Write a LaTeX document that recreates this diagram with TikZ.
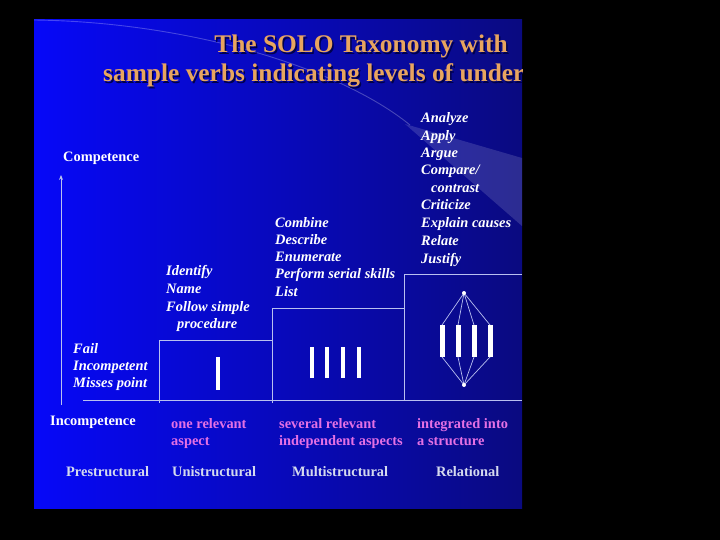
\documentclass[tikz,border=0pt]{standalone}
\usepackage{fontspec}
\setmainfont{Liberation Serif}
\usetikzlibrary{arrows.meta}
\definecolor{slideL}{RGB}{6,8,248}
\definecolor{slideR}{RGB}{10,10,128}
\definecolor{titlecol}{RGB}{232,165,95}
\definecolor{pinkcol}{RGB}{228,112,228}
\definecolor{levelcol}{RGB}{212,218,238}
\definecolor{linecol}{RGB}{185,192,240}
\begin{document}
\begin{tikzpicture}[x=1pt,y=-1pt,
  verb/.style={font=\fontsize{14.4}{17}\selectfont\bfseries\itshape, text=white, anchor=base west, inner sep=0pt},
  axislbl/.style={font=\fontsize{14.4}{17}\selectfont\bfseries, text=white, anchor=base west, inner sep=0pt},
  pinklbl/.style={font=\fontsize{14.4}{17}\selectfont\bfseries, text=pinkcol, anchor=base west, inner sep=0pt},
  levellbl/.style={font=\fontsize{14.4}{17}\selectfont\bfseries, text=levelcol, anchor=base west, inner sep=0pt},
  titlelbl/.style={font=\fontsize{25.4}{30}\selectfont\bfseries, text=titlecol, inner sep=0pt},
  shadowlbl/.style={font=\fontsize{25.4}{30}\selectfont\bfseries, text=black!70!blue, inner sep=0pt},
  stepline/.style={draw=linecol, line width=0.9pt},
  bar/.style={draw=white, line width=4.5pt},
  relline/.style={draw=linecol, line width=0.7pt}]
\useasboundingbox (0,0) rectangle (720,540);
\fill[black] (0,0) rectangle (720,540);
\shade[left color=slideL, right color=slideR] (34,20) rectangle (522,508);
\begin{scope}
  \clip (34,20) rectangle (522,508);
  % light beam and decorative curve
  \fill[white, opacity=0.14] (405,124) -- (522,158) -- (522,226) -- cycle;
  \draw[white, opacity=0.25, line width=0.9pt] (34,20) .. controls (190,22) and (340,68) .. (410,125);
  % title
  \node[shadowlbl, anchor=base] (t1s) at (362.5,54.5) {The SOLO Taxonomy with};
  \node[titlelbl, anchor=base] (t1) at (361,53) {The SOLO Taxonomy with};
  \node[shadowlbl, anchor=base west] (t2s) at (104.5,83.5) {sample verbs indicating levels of under};
  \node[titlelbl, anchor=base west] (t2) at (103,82) {sample verbs indicating levels of under};
\end{scope}

% axis
\coordinate (axB) at (61,405);
\coordinate (axT) at (61,175);
\draw[stepline, -{Stealth[length=5pt,width=4pt]}] (axB) -- (axT);
\node[axislbl] (comp) at (63,162) {Competence};
\node[axislbl] (incomp) at (50,425) {Incompetence};

% steps
\coordinate (b0) at (83,400);
\coordinate (b1) at (522,400);
\draw[stepline] (b0) -- (b1);
\coordinate (u0) at (159,403);
\coordinate (u1) at (159,340);
\coordinate (u2) at (272,340);
\draw[stepline] (u0) -- (u1) -- (u2);
\coordinate (m0) at (272,403);
\coordinate (m1) at (272,308);
\coordinate (m2) at (404,308);
\draw[stepline] (m0) -- (m1) -- (m2);
\coordinate (r0) at (404,400);
\coordinate (r1) at (404,274);
\coordinate (r2) at (522,274);
\draw[stepline] (r0) -- (r1) -- (r2);

% unistructural bar
\coordinate (ub1) at (218,357);
\coordinate (ub2) at (218,390);
\draw[bar] (ub1) -- (ub2);

% multistructural bars
\foreach \x [count=\i] in {312,327,343,359}{
  \coordinate (mbt\i) at (\x,347);
  \coordinate (mbb\i) at (\x,378);
  \draw[bar] (mbt\i) -- (mbb\i);
}

% relational structure
\coordinate (rtop) at (464,293);
\coordinate (rbot) at (464,385);
\foreach \x [count=\i] in {442,458,474,490}{
  \coordinate (rbt\i) at (\x,325);
  \coordinate (rbb\i) at (\x,357);
  \draw[relline] (rtop) -- (rbt\i);
  \draw[relline] (rbot) -- (rbb\i);
  \draw[bar, line width=5pt] (rbt\i) -- (rbb\i);
}
\fill[white] (rtop) circle (2pt);
\fill[white] (rbot) circle (2pt);

% verbs
\node[verb] (p1) at (73,353) {Fail};
\node[verb] (p2) at (73,370) {Incompetent};
\node[verb] (p3) at (73,387) {Misses point};

\node[verb] (u1t) at (166,275) {Identify};
\node[verb] (u2t) at (166,293) {Name};
\node[verb] (u3t) at (166,311) {Follow simple};
\node[verb] (u4t) at (177,328) {procedure};

\node[verb] (m1t) at (275,227) {Combine};
\node[verb] (m2t) at (275,244) {Describe};
\node[verb] (m3t) at (275,261) {Enumerate};
\node[verb] (m4t) at (275,278) {Perform serial skills};
\node[verb] (m5t) at (275,296) {List};

\node[verb] (r1t) at (421,123) {Analyze};
\node[verb] (r2t) at (421,141) {Apply};
\node[verb] (r3t) at (421,158) {Argue};
\node[verb] (r4t) at (421,175) {Compare/};
\node[verb] (r5t) at (431,193) {contrast};
\node[verb] (r6t) at (421,210) {Criticize};
\node[verb] (r7t) at (421,228) {Explain causes};
\node[verb] (r8t) at (421,245) {Relate};
\node[verb] (r9t) at (421,263) {Justify};

% descriptions
\node[pinklbl] (d1a) at (171,428) {one relevant};
\node[pinklbl] (d1b) at (171,445) {aspect};
\node[pinklbl] (d2a) at (279,428) {several relevant};
\node[pinklbl] (d2b) at (279,445) {independent aspects};
\node[pinklbl] (d3a) at (417,428) {integrated into};
\node[pinklbl] (d3b) at (417,445) {a structure};

% level names
\node[levellbl] (l1) at (66,476) {Prestructural};
\node[levellbl] (l2) at (172,476) {Unistructural};
\node[levellbl] (l3) at (292,476) {Multistructural};
\node[levellbl] (l4) at (436,476) {Relational};
\end{tikzpicture}
\end{document}
